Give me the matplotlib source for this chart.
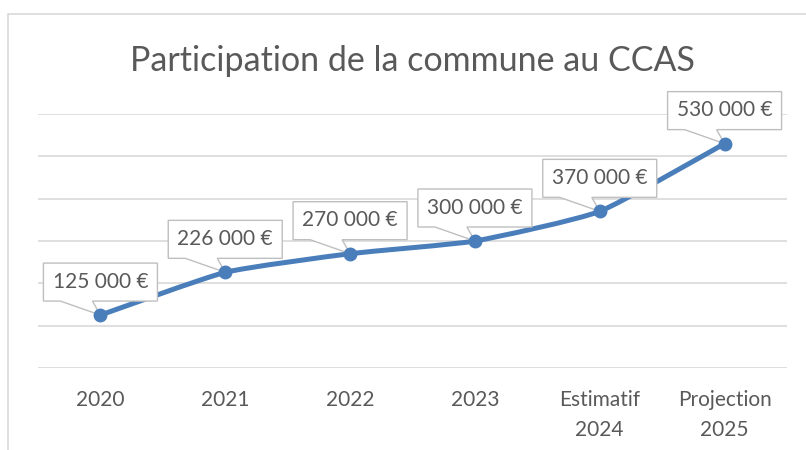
import matplotlib.pyplot as plt
import matplotlib.transforms as mtransforms
from matplotlib.patches import Polygon, Rectangle
from matplotlib.path import Path
from matplotlib.patches import PathPatch
import numpy as np

# Data
categories = ["2020", "2021", "2022", "2023", "Estimatif\n2024", "Projection\n2025"]
values = [125000, 226000, 270000, 300000, 370000, 530000]
labels = ["125 000 €", "226 000 €", "270 000 €", "300 000 €", "370 000 €", "530 000 €"]

blue = "#4A7EBB"
grey_txt = "#595959"
grid_col = "#D9D9D9"
font = "Lato"

fig = plt.figure(figsize=(8.06, 4.5), dpi=100)
fig.patch.set_facecolor("white")

# chart frame (top + left edges visible)
fig.patches.append(Rectangle((8 / 806, -0.1), 1.2, 1 - 14 / 450 + 0.1,
                             transform=fig.transFigure, fill=False,
                             edgecolor=grid_col, lw=1.2, zorder=0))

ax = fig.add_axes([38 / 806, (450 - 368) / 450, 749 / 806, 254 / 450])
ax.set_xlim(-0.5, len(categories) - 0.5)
ax.set_ylim(0, 600000)
ax.set_yticks(np.arange(0, 600001, 100000))
ax.yaxis.grid(True, color=grid_col, lw=1.2)
ax.set_axisbelow(True)
for s in ax.spines.values():
    s.set_visible(False)
ax.tick_params(axis="y", length=0, labelleft=False)
ax.tick_params(axis="x", length=0, pad=16, colors=grey_txt)
ax.set_xticks(range(len(categories)))
ax.set_xticklabels(categories, fontsize=15, family=font, linespacing=1.6, va="top")

# lightly smoothed line (bezier through the points)
x = np.arange(len(values), dtype=float)
y = np.array(values, dtype=float)
k = 1 / 12
verts = [(x[0], y[0])]
codes = [Path.MOVETO]
for i in range(len(x) - 1):
    x0, y0 = (x[i - 1], y[i - 1]) if i > 0 else (x[i], y[i])
    x3, y3 = (x[i + 2], y[i + 2]) if i + 2 < len(x) else (x[i + 1], y[i + 1])
    c1 = (x[i] + (x[i + 1] - x0) * k, y[i] + (y[i + 1] - y0) * k)
    c2 = (x[i + 1] - (x3 - x[i]) * k, y[i + 1] - (y3 - y[i]) * k)
    verts += [c1, c2, (x[i + 1], y[i + 1])]
    codes += [Path.CURVE4] * 3
ax.add_patch(PathPatch(Path(verts, codes), fill=False, edgecolor=blue, lw=3.6,
                       capstyle="round", zorder=3))

# callout labels
for xi, yi, lab in zip(x, y, labels):
    tr = fig.dpi_scale_trans + mtransforms.ScaledTranslation(xi, yi, ax.transData)
    px = np.array([(-57, 14), (-40, 14), (0, 0), (-8, 14), (57, 14),
                   (57, 52), (-57, 52)]) / 100
    ax.add_patch(Polygon(px, closed=True, transform=tr, facecolor="white",
                         edgecolor="#BFBFBF", lw=1.0, zorder=4, clip_on=False))
    ax.text(0, 0.335, lab, transform=tr, ha="center", va="center",
            fontsize=15, family=font, color=grey_txt, zorder=5)

ax.plot(x, y, "o", color=blue, ms=9, zorder=6)

fig.text(412 / 806, (450 - 71) / 450, "Participation de la commune au CCAS",
         ha="center", va="baseline", fontsize=24.5, family=font, color=grey_txt)

fig.savefig("out.png", dpi=100)
